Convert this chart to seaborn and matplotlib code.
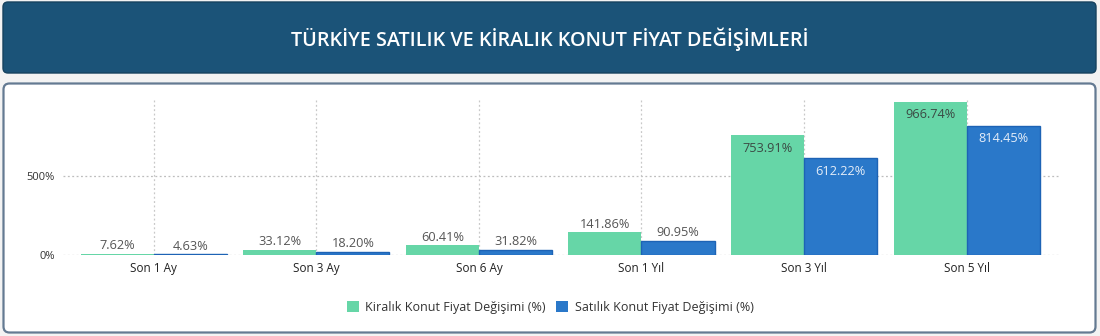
import matplotlib
matplotlib.use("Agg")
import matplotlib.pyplot as plt
from matplotlib.patches import FancyBboxPatch, Patch
import seaborn as sns
import pandas as pd

# ---- data ----
categories = ["Son 1 Ay", "Son 3 Ay", "Son 6 Ay", "Son 1 Yıl", "Son 3 Yıl", "Son 5 Yıl"]
series_names = ["Kiralık Konut Fiyat Değişimi (%)", "Satılık Konut Fiyat Değişimi (%)"]
kiralik = [7.62, 33.12, 60.41, 141.86, 753.91, 966.74]
satilik = [4.63, 18.20, 31.82, 90.95, 612.22, 814.45]
y_ticks = [0, 500]
title = "TÜRKİYE SATILIK VE KİRALIK KONUT FİYAT DEĞİŞİMLERİ"

sns.set_theme(style="white")
plt.rcParams["font.family"] = ["Open Sans", "DejaVu Sans"]

W, H = 1100, 336
fig = plt.figure(figsize=(W / 100, H / 100), dpi=100)
fig.patch.set_facecolor("#f3f3f3")

# background drawing axes in pixel coordinates
bg = fig.add_axes([0, 0, 1, 1], zorder=0)
bg.set_xlim(0, W)
bg.set_ylim(H, 0)
bg.axis("off")
bg.add_patch(FancyBboxPatch((3, 2), 1093, 71, boxstyle="round,pad=0,rounding_size=5",
                            facecolor="#1b5378", edgecolor="#16425f", linewidth=1))
bg.text(W / 2, 39, title, color="white", ha="center", va="center",
        fontsize=14.2, fontweight="semibold")
bg.add_patch(FancyBboxPatch((3.5, 83.5), 1092, 249, boxstyle="round,pad=0,rounding_size=6",
                            facecolor="white", edgecolor="#647a92", linewidth=1.6))

green = "#66d6a7"
blue = "#2a78c9"

df = pd.DataFrame({
    "cat": categories * 2,
    "val": kiralik + satilik,
    "series": [series_names[0]] * len(categories) + [series_names[1]] * len(categories),
})

ax = fig.add_axes([63 / W, (H - 255) / H, (1060 - 63) / W, (255 - 100) / H], zorder=2)
ax.patch.set_alpha(0)
sns.barplot(data=df, x="cat", y="val", hue="series", order=categories,
            hue_order=series_names, palette=[green, blue], width=0.9, gap=0,
            saturation=1, ax=ax, legend=False, zorder=3)

for p, name in zip(ax.patches, [series_names[0]] * 6 + [series_names[1]] * 6):
    if name == series_names[1]:
        p.set_edgecolor("#1d63b5")
        p.set_linewidth(1)
    else:
        p.set_edgecolor("none")

ax.set_xlim(-0.558, 5.574)
ax.set_ylim(0, 977)
for s in ax.spines.values():
    s.set_visible(False)
ax.set_xlabel("")
ax.set_ylabel("")
ax.set_yticks(y_ticks)
ax.set_yticklabels([f"{t}%" for t in y_ticks], fontsize=8, color="#333333")
ax.tick_params(axis="both", length=0)
ax.tick_params(axis="y", pad=6)
ax.tick_params(axis="x", pad=5)
for lab in ax.get_xticklabels():
    lab.set_fontsize(8.5)
    lab.set_color("#222222")

# grid lines
for t in y_ticks:
    ax.axhline(t, color="#bdbdbd", linestyle=(0, (1.5, 2)), linewidth=0.9, zorder=1)
for i in range(len(categories)):
    ax.axvline(i, color="#c8c8c8", linestyle=(0, (1.5, 2)), linewidth=0.9, zorder=1)

# value labels
for cont, vals, inside_col in zip(ax.containers, [kiralik, satilik], ["#3b4a44", "#e4edf8"]):
    for bar, v in zip(cont, vals):
        x = bar.get_x() + bar.get_width() / 2
        txt = f"{v:.2f}%"
        if v > 500:
            ax.annotate(txt, (x, v), xytext=(0, -9.5), textcoords="offset points",
                        ha="center", va="center", fontsize=9.2, color=inside_col, zorder=5)
        else:
            ax.annotate(txt, (x, v), xytext=(0, 1.2), textcoords="offset points",
                        ha="center", va="bottom", fontsize=9.2, color="#555555", zorder=5)

handles = [Patch(facecolor=green, edgecolor="none"), Patch(facecolor=blue, edgecolor="none")]
fig.legend(handles, series_names, loc="center", bbox_to_anchor=(0.5, (H - 307) / H),
           ncol=2, frameon=False, fontsize=9, handlelength=1.0, handleheight=1.0,
           handletextpad=0.5, columnspacing=0.8, labelcolor="#333333")

fig.savefig("out.png", dpi=100, facecolor=fig.get_facecolor())
